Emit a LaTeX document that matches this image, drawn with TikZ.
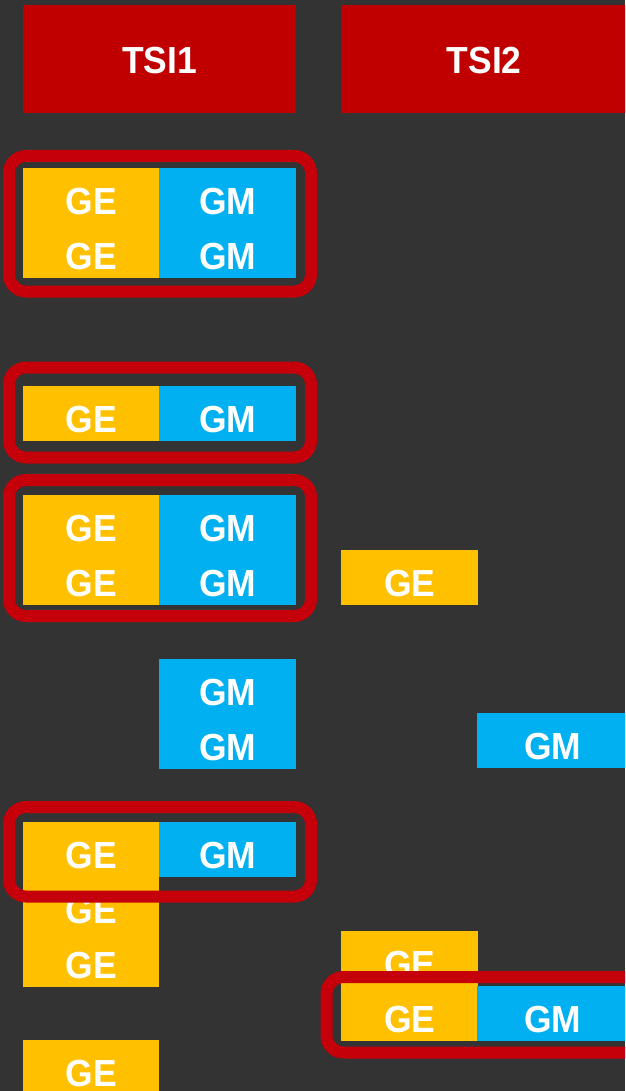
\documentclass[tikz,border=0pt]{standalone}
\usepackage{fontspec}
\setmainfont{Liberation Sans}[FakeStretch=0.94]
\definecolor{bg}{RGB}{51,51,51}
\definecolor{hdred}{RGB}{192,0,0}
\definecolor{olred}{RGB}{197,0,10}
\definecolor{geyellow}{RGB}{255,192,0}
\definecolor{gmcyan}{RGB}{0,176,240}
\tikzset{
  cell/.style={anchor=north west, inner sep=0pt, text=white,
    font=\fontsize{37.7}{40}\selectfont\bfseries,
    text height=46pt, text depth=9pt},
  gecell/.style={cell, fill=geyellow, minimum width=136pt},
  gmcell/.style={cell, fill=gmcyan, minimum width=137pt},
  hdr/.style={anchor=north west, inner sep=0pt, fill=hdred, text=white,
    font=\fontsize{37.7}{40}\selectfont\bfseries,
    text height=68.3pt, text depth=39.7pt},
  outl/.style={draw=olred, line width=12pt, rounded corners=17pt}
}
\begin{document}
\begin{tikzpicture}[x=1pt,y=-1pt]
\useasboundingbox (0,0) rectangle (625,1091);
\fill[bg] (0,0) rectangle (625,1091);
\clip (0,0) rectangle (625,1091);
% headers
\node[hdr, minimum width=273pt] (tsi1) at (23,5) {TSI1};
\node[hdr, minimum width=286pt] (tsi2) at (341,5) {TSI2};
% block 1
\node[gecell] (b1ge1) at (23,168) {GE};
\node[gmcell] (b1gm1) at (159,168) {GM};
\node[gecell] (b1ge2) at (23,223) {GE};
\node[gmcell] (b1gm2) at (159,223) {GM};
% block 2
\node[gecell] (b2ge) at (23,386) {GE};
\node[gmcell] (b2gm) at (159,386) {GM};
% block 3
\node[gecell] (b3ge1) at (23,495) {GE};
\node[gmcell] (b3gm1) at (159,495) {GM};
\node[gecell] (b3ge2) at (23,550) {GE};
\node[gmcell] (b3gm2) at (159,550) {GM};
% TSI2 GE
\node[gecell, minimum width=137pt] (t2ge1) at (341,550) {GE};
% GM column
\node[gmcell] (gma1) at (159,659) {GM};
\node[gmcell] (gma2) at (159,714) {GM};
% TSI2 GM
\node[gmcell, minimum width=151pt] (t2gm1) at (477,713) {GM};
% block 5
\node[gecell] (b5ge1) at (23,822) {GE};
\node[gmcell] (b5gm) at (159,822) {GM};
\node[gecell] (b5ge2) at (23,877) {GE};
\node[gecell] (b5ge3) at (23,932) {GE};
% block 6
\node[gecell, minimum width=137pt] (b6ge1) at (341,931) {GE};
\node[gecell, minimum width=137pt] (b6ge2) at (341,986) {GE};
\node[gmcell, minimum width=151pt] (b6gm) at (477,986) {GM};
% bottom GE
\node[gecell] (b7ge) at (23,1040) {GE};
% outlines
\draw[outl] (9,156) rectangle (311,291.5);
\draw[outl] (9,367.5) rectangle (311,457.5);
\draw[outl] (9,480) rectangle (311,616);
\draw[outl] (9,807) rectangle (311,896.5);
\draw[outl] (326.5,977) rectangle (680,1052.5);
\end{tikzpicture}
\end{document}
